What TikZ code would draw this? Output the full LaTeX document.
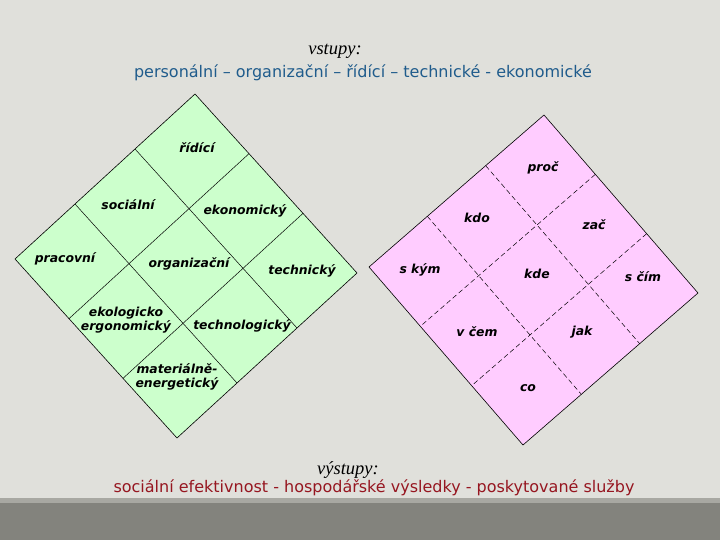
\documentclass[tikz,border=0pt]{standalone}
\usepackage{fontspec}
\setmainfont{DejaVu Sans}
\newfontfamily\headfont{Liberation Serif}
\usetikzlibrary{calc}
\definecolor{pageGray}{RGB}{224,224,219}
\definecolor{barGray}{RGB}{131,131,125}
\definecolor{stripeGray}{RGB}{168,168,162}
\definecolor{cellGreen}{RGB}{204,255,204}
\definecolor{cellPink}{RGB}{255,204,255}
\definecolor{inBlue}{RGB}{32,92,140}
\definecolor{outRed}{RGB}{150,22,32}
\tikzset{
  cell/.style={
    font=\bfseries\itshape\fontsize{12.4}{14.5}\selectfont,
    align=center,
    inner sep=1pt},
  head/.style={
    font=\headfont\itshape\fontsize{18.5}{20}\selectfont},
  list/.style={
    font=\fontsize{16}{18}\selectfont},
  rim/.style={
    draw=black,
    line width=0.6pt,
    line join=miter}
  }

\begin{document}
\begin{tikzpicture}[x=1pt, y=-1pt]
    \fill[pageGray] (0,0) rectangle (720,540);
    \useasboundingbox (0,0) rectangle (720,540);
    \fill[stripeGray] (0,498) rectangle (720,503);
    \fill[barGray] (0,503) rectangle (720,540);
    % green square
    \coordinate (gT) at (195,94);
    \coordinate (gR) at (357,273);
    \coordinate (gB) at (177,438);
    \coordinate (gL) at (15,259);
    \fill[cellGreen] (gT) -- (gR) -- (gB) -- (gL) -- cycle;
    \foreach \t in {1/3,2/3} {
      \draw[line width=0.5pt] ($(gT)!\t!(gL)$) -- ($(gR)!\t!(gB)$);
      \draw[line width=0.5pt] ($(gT)!\t!(gR)$) -- ($(gL)!\t!(gB)$);
    }
    \draw[rim] (gT) -- (gR) -- (gB) -- (gL) -- cycle;
    % pink square
    \coordinate (pT) at (544,115);
    \coordinate (pR) at (698,293);
    \coordinate (pB) at (523,445);
    \coordinate (pL) at (369,267);
    \fill[cellPink] (pT) -- (pR) -- (pB) -- (pL) -- cycle;
    \foreach \t in {1/3,2/3} {
      \draw[dash pattern=on 5pt off 3pt, line width=0.5pt] ($(pT)!\t!(pL)$) -- ($(pR)!\t!(pB)$);
      \draw[dash pattern=on 5pt off 3pt, line width=0.5pt] ($(pT)!\t!(pR)$) -- ($(pL)!\t!(pB)$);
    }
    \draw[rim] (pT) -- (pR) -- (pB) -- (pL) -- cycle;
    % texts
    \node[head] (vstupy) at (335,51) {vstupy:};
    \node[list, text=inBlue] (vstupyList) at (363,73)
      {personální – organizační – řídící – technické - ekonomické};
    \node[head] (vystupy) at (348,470) {výstupy:};
    \node[list, text=outRed] (vystupyList) at (374,488)
      {sociální efektivnost - hospodářské výsledky - poskytované služby};
    \node[cell] (ridici) at (197,148) {řídící};
    \node[cell] (socialni) at (128,205) {sociální};
    \node[cell] (ekonomicky) at (245,211) {ekonomický};
    \node[cell] (pracovni) at (65,259) {pracovní};
    \node[cell] (organizacni) at (189,264) {organizační};
    \node[cell] (technicky) at (302,271) {technický};
    \node[cell] (ekologicko) at (126,320) {ekologicko\\ergonomický};
    \node[cell] (technologicky) at (242,326) {technologický};
    \node[cell] (materialne) at (177,377) {materiálně-\\energetický};
    \node[cell] (proc) at (543,168) {proč};
    \node[cell] (kdo) at (477,218) {kdo};
    \node[cell] (zac) at (594,225) {zač};
    \node[cell] (skym) at (420,270) {s kým};
    \node[cell] (kde) at (537,274) {kde};
    \node[cell] (scim) at (643,277) {s čím};
    \node[cell] (vcem) at (477,332) {v čem};
    \node[cell] (jak) at (582,332) {jak};
    \node[cell] (co) at (528,388) {co};
\end{tikzpicture}
\end{document}
